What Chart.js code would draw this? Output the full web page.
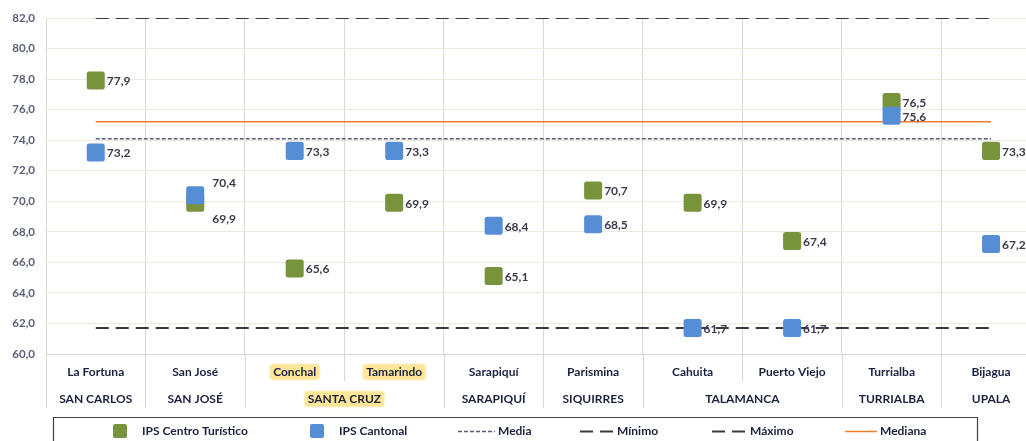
<!DOCTYPE html>
<html><head><meta charset="utf-8">
<script src="https://cdn.jsdelivr.net/npm/chart.js@4.4.1/dist/chart.umd.min.js"></script>
<style>
html,body{margin:0;padding:0;background:#fff;overflow:hidden;width:1026px;height:441px}
canvas{display:block}
</style></head>
<body>
<canvas id="c" width="1055" height="441"></canvas>
<script>
// ---- data ----
const categories = ['La Fortuna','San José','Conchal','Tamarindo','Sarapiquí','Parismina','Cahuita','Puerto Viejo','Turrialba','Bijagua'];
const cantons = ['SAN CARLOS','SAN JOSÉ','SANTA CRUZ','SANTA CRUZ','SARAPIQUÍ','SIQUIRRES','TALAMANCA','TALAMANCA','TURRIALBA','UPALA'];
const ipsCentroTuristico = [77.9, 69.9, 65.6, 69.9, 65.1, 70.7, 69.9, 67.4, 76.5, 73.3];
const ipsCantonal = [73.2, 70.4, 73.3, 73.3, 68.4, 68.5, 61.7, 61.7, 75.6, 67.2];
const mediaValue = 74.1;
const minimoValue = 61.7;
const maximoValue = 82.0;
const medianaValue = 75.2;
const yMin = 60, yMax = 82, yStep = 2;
const highlightedLabels = ['Conchal','Tamarindo','SANTA CRUZ'];

// ---- helpers ----
const FONT = 'Lato, "Open Sans", sans-serif';
const fmt = v => Number(v).toFixed(1).replace('.', ',');
const refLine = v => categories.map(() => v);
const TEXT = '#1B2240';

// label offsets [dx, dy] per dataset/point (default right of marker)
const labelOffsets = [
  {1: [17, 16]},   // IPS Centro Turístico
  {1: [17, -12]}   // IPS Cantonal
];

const datasets = [
  {label:'IPS Centro Turístico', data: ipsCentroTuristico, showLine:false, pointStyle:'rect',
   pointRadius:9.2, pointHoverRadius:9.2, pointBackgroundColor:'#77933C', pointBorderColor:'#77933C',
   backgroundColor:'#77933C', borderColor:'#77933C', pointBorderWidth:5, order:1, isMarker:true},
  {label:'IPS Cantonal', data: ipsCantonal, showLine:false, pointStyle:'rect',
   pointRadius:9.2, pointHoverRadius:9.2, pointBackgroundColor:'#558ED5', pointBorderColor:'#558ED5',
   backgroundColor:'#558ED5', borderColor:'#558ED5', pointBorderWidth:5, order:0, isMarker:true},
  {label:'Media', data: refLine(mediaValue), borderColor:'#5D5A75', borderWidth:1.5, borderDash:[4,2],
   pointRadius:0, fill:false, order:5},
  {label:'Mínimo', data: refLine(minimoValue), borderColor:'#3A3A3A', borderWidth:2, borderDash:[13,7],
   pointRadius:0, fill:false, order:4},
  {label:'Máximo', data: refLine(maximoValue), borderColor:'#3A3A3A', borderWidth:2, borderDash:[13,7],
   pointRadius:0, fill:false, order:4},
  {label:'Mediana', data: refLine(medianaValue), borderColor:'#ED7D31', borderWidth:1.5,
   pointRadius:0, fill:false, order:3}
];

const customPlugin = {
  id: 'custom',
  beforeDatasetDraw(chart, args) {
    if (chart.data.datasets[args.index].isMarker) chart.ctx.lineJoin = 'round';
  },
  afterDatasetsDraw(chart) {
    const ctx = chart.ctx;
    ctx.save();
    ctx.font = `bold 12px ${FONT}`;
    ctx.fillStyle = '#3A3A4C';
    ctx.textBaseline = 'middle';
    ctx.textAlign = 'left';
    [0, 1].forEach(di => {
      const meta = chart.getDatasetMeta(di);
      meta.data.forEach((pt, i) => {
        const off = labelOffsets[di][i] || [11, 1];
        ctx.fillText(fmt(chart.data.datasets[di].data[i]), pt.x + off[0], pt.y + off[1]);
      });
    });
    ctx.restore();
  },
  afterDraw(chart) {
    const ctx = chart.ctx;
    const xs = chart.scales.x;
    const area = chart.chartArea;
    const n = categories.length;
    const w = (area.right - area.left) / n;
    const bottom = area.bottom;
    const row1 = bottom + 18, row2 = bottom + 45;
    ctx.save();
    // separators in the label area
    ctx.strokeStyle = '#D9D9D9';
    ctx.lineWidth = 1;
    for (let b = 0; b <= n; b++) {
      const full = b === 0 || b === n || cantons[b - 1] !== cantons[b];
      const x = Math.round(area.left + b * w) + 0.5;
      ctx.beginPath();
      ctx.moveTo(x, bottom);
      ctx.lineTo(x, full ? bottom + 54 : bottom + 27);
      ctx.stroke();
    }
    ctx.font = `bold 12px ${FONT}`;
    ctx.textAlign = 'center';
    ctx.textBaseline = 'middle';
    const drawLabel = (text, cx, cy) => {
      if (highlightedLabels.includes(text)) {
        const tw = ctx.measureText(text).width;
        ctx.save();
        ctx.fillStyle = '#FFE699';
        ctx.shadowColor = '#FFE699';
        ctx.shadowBlur = 3;
        ctx.beginPath();
        ctx.roundRect(cx - tw / 2 - 3, cy - 7.5, tw + 6, 15, 3);
        ctx.fill();
        ctx.restore();
      }
      ctx.fillStyle = TEXT;
      ctx.fillText(text, cx, cy);
    };
    categories.forEach((c, i) => drawLabel(c, xs.getPixelForValue(i), row1));
    // canton groups
    let start = 0;
    for (let i = 1; i <= n; i++) {
      if (i === n || cantons[i] !== cantons[start]) {
        const cx = (xs.getPixelForValue(start) + xs.getPixelForValue(i - 1)) / 2;
        drawLabel(cantons[start], cx, row2);
        start = i;
      }
    }
    // legend
    ctx.strokeStyle = '#404040';
    ctx.lineWidth = 1.2;
    ctx.strokeRect(53.5, 417.5, 924, 40);
    const ly = 431;
    ctx.textAlign = 'left';
    const ds = chart.data.datasets;
    const items = [
      {i:0, sx:113, tx:142},
      {i:1, sx:310, tx:339},
      {i:2, sx:458, ex:495, tx:498},
      {i:3, sx:580, ex:613, tx:617},
      {i:4, sx:712, ex:745, tx:750},
      {i:5, sx:845, ex:877, tx:880}
    ];
    items.forEach(it => {
      const d = ds[it.i];
      ctx.save();
      if (d.isMarker) {
        ctx.fillStyle = d.pointBackgroundColor;
        ctx.beginPath();
        ctx.roundRect(it.sx, ly - 7, 14, 14, 2);
        ctx.fill();
      } else {
        ctx.strokeStyle = d.borderColor;
        ctx.lineWidth = d.borderWidth;
        ctx.setLineDash(d.borderDash || []);
        ctx.beginPath();
        ctx.moveTo(it.sx, ly + 0.5);
        ctx.lineTo(it.ex, ly + 0.5);
        ctx.stroke();
      }
      ctx.restore();
      ctx.fillStyle = TEXT;
      ctx.fillText(d.label, it.tx, ly);
    });
    ctx.restore();
  }
};

new Chart(document.getElementById('c'), {
  type: 'line',
  data: { labels: categories, datasets },
  options: {
    responsive: false,
    animation: false,
    events: [],
    layout: { padding: { top: 18, right: 3, left: 0, bottom: 0 } },
    plugins: { legend: { display: false }, tooltip: { enabled: false } },
    scales: {
      x: {
        type: 'category',
        offset: true,
        grid: { offset: true, color: '#D9D9D9', drawTicks: false },
        border: { color: '#D9D9D9' },
        ticks: { display: false },
        afterFit: s => { s.height = 87; }
      },
      y: {
        min: yMin, max: yMax,
        ticks: { stepSize: yStep, callback: v => fmt(v), color: '#5A6078',
                 font: { family: FONT, size: 11.5, weight: 'bold' }, padding: 11 },
        grid: { color: c => (c.tick && c.tick.value === yMin) ? '#D9D9D9' : '#ECE9DE', drawTicks: false },
        border: { color: '#D9D9D9' },
        afterFit: s => { s.width = 46; }
      }
    }
  },
  plugins: [customPlugin]
});
</script>
</body></html>
